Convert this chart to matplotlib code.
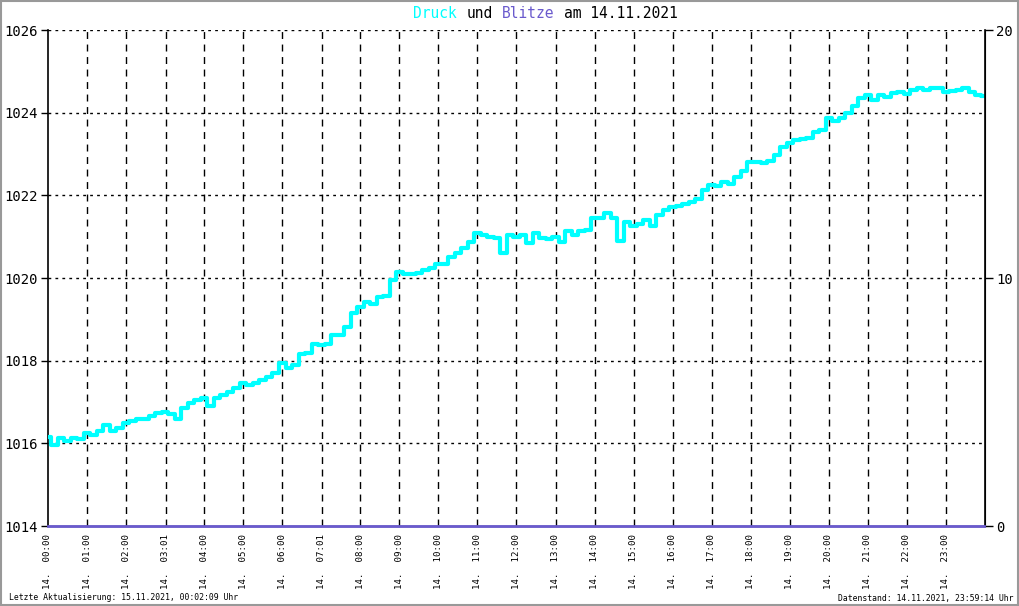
import numpy as np
import matplotlib
matplotlib.use("Agg")
import matplotlib.pyplot as plt
from matplotlib.patches import Rectangle

# Druck (hPa), read every 10 minutes from 00:00 to 23:50, plus the last value at 23:59
druck = [
    1016.15, 1015.95, 1016.12, 1016.05, 1016.12, 1016.10,
    1016.25, 1016.20, 1016.30, 1016.45, 1016.30, 1016.37,
    1016.50, 1016.55, 1016.58, 1016.60, 1016.65, 1016.73,
    1016.77, 1016.70, 1016.58, 1016.85, 1016.97, 1017.05,
    1017.10, 1016.90, 1017.10, 1017.17, 1017.25, 1017.33,
    1017.45, 1017.40, 1017.45, 1017.53, 1017.60, 1017.70,
    1017.95, 1017.83, 1017.90, 1018.15, 1018.18, 1018.40,
    1018.38, 1018.40, 1018.62, 1018.62, 1018.82, 1019.15,
    1019.30, 1019.42, 1019.37, 1019.55, 1019.57, 1019.95,
    1020.15, 1020.10, 1020.10, 1020.12, 1020.20, 1020.23,
    1020.35, 1020.35, 1020.50, 1020.60, 1020.72, 1020.87,
    1021.08, 1021.05, 1021.00, 1020.97, 1020.60, 1021.05,
    1021.00, 1021.05, 1020.85, 1021.10, 1020.97, 1020.95,
    1021.00, 1020.87, 1021.13, 1021.05, 1021.13, 1021.16,
    1021.45, 1021.45, 1021.57, 1021.45, 1020.90, 1021.35,
    1021.25, 1021.30, 1021.40, 1021.25, 1021.52, 1021.65,
    1021.72, 1021.75, 1021.78, 1021.85, 1021.92, 1022.12,
    1022.25, 1022.22, 1022.32, 1022.28, 1022.45, 1022.60,
    1022.80, 1022.80, 1022.78, 1022.82, 1022.98, 1023.17,
    1023.27, 1023.33, 1023.37, 1023.38, 1023.53, 1023.57,
    1023.87, 1023.80, 1023.87, 1024.00, 1024.15, 1024.35,
    1024.42, 1024.30, 1024.42, 1024.37, 1024.48, 1024.50,
    1024.45, 1024.55, 1024.60, 1024.55, 1024.60, 1024.60,
    1024.50, 1024.52, 1024.55, 1024.60, 1024.50, 1024.42,
    1024.40,
]
zeit = [i / 6 for i in range(len(druck) - 1)] + [23 + 59 / 60]

# Blitze (count), all zero on this day
blitze_zeit = [0, 6, 12, 18, 23 + 59 / 60]
blitze = [0, 0, 0, 0, 0]

tick_labels = ["14.  00:00", "14.  01:00", "14.  02:00", "14.  03:01", "14.  04:00",
               "14.  05:00", "14.  06:00", "14.  07:01", "14.  08:00", "14.  09:00",
               "14.  10:00", "14.  11:00", "14.  12:00", "14.  13:00", "14.  14:00",
               "14.  15:00", "14.  16:00", "14.  17:00", "14.  18:00", "14.  19:00",
               "14.  20:00", "14.  21:00", "14.  22:00", "14.  23:00"]
tick_pos = [int(t[-5:-3]) + int(t[-2:]) / 60 for t in tick_labels]

mono = "DejaVu Sans Mono"
cyan = "#00ffff"
blue = "#6a5acd"

fig = plt.figure(figsize=(10.2, 6.06), dpi=100)
ax = fig.add_axes([48 / 1020, 1 - 526 / 606, 937 / 1020, 496 / 606])

ax.plot(zeit, druck, color=cyan, linewidth=3, drawstyle="steps-mid", zorder=3)
ax.set_xlim(0, 24)
ax.set_ylim(1014, 1026)
ax.set_yticks(np.arange(1014, 1027, 2))
ax.set_yticklabels([str(v) for v in range(1014, 1027, 2)], fontfamily=mono, fontsize=10)
ax.set_xticks(tick_pos)
ax.set_xticklabels(tick_labels, rotation=90, fontfamily=mono, fontsize=6.6, va="top")

for y in range(1016, 1027, 2):
    ax.axhline(y, color="black", linewidth=1, linestyle=(0, (2, 3)), zorder=1)
for x in tick_pos[1:]:
    ax.axvline(x, color="black", linewidth=1, linestyle=(0, (5, 4)), zorder=1)

ax.spines["top"].set_visible(False)
ax.spines["left"].set_linewidth(1.2)
ax.spines["bottom"].set_linewidth(1)
ax.tick_params(axis="y", length=5, width=1, pad=2)
ax.tick_params(axis="x", length=0, pad=6)

ax2 = ax.twinx()
ax2.plot(blitze_zeit, blitze, color=blue, linewidth=2, clip_on=False, zorder=4)
ax2.set_ylim(0, 20)
ax2.set_yticks([0, 10, 20])
ax2.set_yticklabels(["0", "10", "20"], fontfamily=mono, fontsize=10)
ax2.tick_params(axis="y", length=6, width=1, pad=2)
for s in ["top", "bottom", "left"]:
    ax2.spines[s].set_visible(False)
ax2.spines["right"].set_linewidth(1.2)

# Title in pieces with their own colours
cw = 8.9 / 1020
x0 = 413 / 1020
ty = 1 - 13 / 606
for txt, col, n in [("Druck", cyan, 0), ("und", "black", 6),
                    ("Blitze", blue, 10), ("am 14.11.2021", "black", 17)]:
    fig.text(x0 + n * cw, ty, txt, color=col, fontfamily=mono, fontsize=10.5,
             va="center", ha="left")

fig.text(9 / 1020, 1 - 598 / 606, "Letzte Aktualisierung: 15.11.2021, 00:02:09 Uhr",
         fontfamily=mono, fontsize=5.9, va="center", ha="left")
fig.text(1014 / 1020, 1 - 598 / 606, "Datenstand: 14.11.2021, 23:59:14 Uhr",
         fontfamily=mono, fontsize=5.9, va="center", ha="right")

fig.patches.append(Rectangle((0.001, 0.002), 0.997, 0.996, transform=fig.transFigure,
                             fill=False, edgecolor="#999999", linewidth=1.5))

fig.savefig("out.png", dpi=100)
